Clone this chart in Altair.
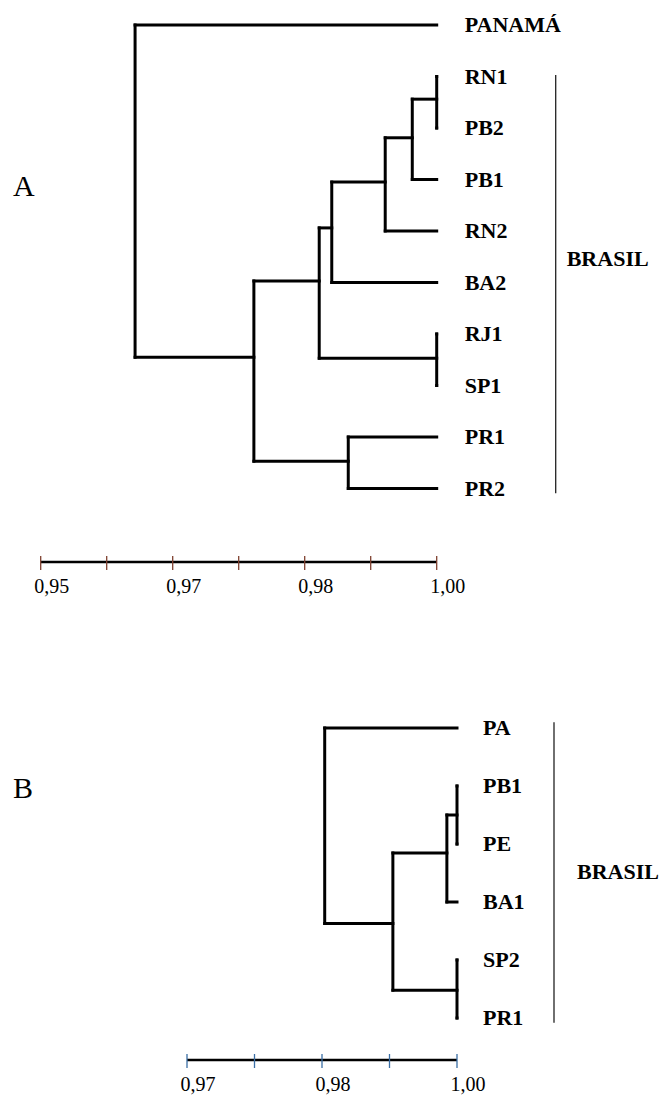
import altair as alt
import pandas as pd

# ---------------- data ----------------
# Panel A
leaves_A = ["PANAMÁ", "RN1", "PB2", "PB1", "RN2", "BA2", "RJ1", "SP1", "PR1", "PR2"]
nodes_A = ["a1", "a2", "a3", "a4", "a5", "a6", "a7", "a8", "a9"]
children_A = [("RN1", "PB2"), ("a1", "PB1"), ("a2", "RN2"), ("a3", "BA2"), ("RJ1", "SP1"),
              ("a4", "a5"), ("PR1", "PR2"), ("a6", "a7"), ("PANAMÁ", "a8")]
levels_A = [1.000, 0.9963, 0.9922, 0.9841, 1.000, 0.9822, 0.9866, 0.9723, 0.9543]
rows_A = [1.44, 2.19, 3.05, 3.94, 6.47, 4.97, 8.47, 6.45, 3.2]   # connector row of each node
group_A = "BRASIL"
group_A_span = [0.97, 9.09]
group_A_row = 4.55
ticks_A = [0.94, 0.95, 0.96, 0.97, 0.98, 0.99, 1.00]
tick_labels_A = ["0,95", "", "0,97", "", "0,98", "", "1,00"]

# Panel B
leaves_B = ["PA", "PB1", "PE", "BA1", "SP2", "PR1"]
nodes_B = ["b1", "b2", "b3", "b4", "b5"]
children_B = [("PB1", "PE"), ("b1", "BA1"), ("SP2", "PR1"), ("b2", "b3"), ("PA", "b4")]
levels_B = [1.000, 0.9985, 1.000, 0.9905, 0.9804]
rows_B = [1.5, 2.155, 4.52, 3.37, 2.0]
group_B = "BRASIL"
group_B_span = [-0.10, 5.08]
group_B_row = 2.48
ticks_B = [0.96, 0.97, 0.98, 0.99, 1.00]
tick_labels_B = ["0,97", "", "0,98", "", "1,00"]

# ---------------- layout (pixels) ----------------
FONT = "Liberation Serif"
W = 653
H_A = 554
SPACING = 40
H_B = 458
LEAF_FS = 22
TICK_FS = 20


def lin_domain(v0, p0, v1, p1, width):
    k = (v1 - v0) / (p1 - p0)
    return [v0 - k * p0, v0 + k * (width - p0)]


def row_domain(row0_px, step, height):
    return [-row0_px / step, (height - row0_px) / step]


def build_segments(leaves, names, children, levels, rows):
    pos = {l: (1.0, float(i)) for i, l in enumerate(leaves)}
    segs = []
    for n, ch, lv, r in zip(names, children, levels, rows):
        ys = []
        for c in ch:
            cx, cy = pos[c]
            segs.append(dict(x=lv, x2=cx, y=cy, y2=cy))
            ys.append(cy)
        segs.append(dict(x=lv, x2=lv, y=min(ys), y2=max(ys)))
        pos[n] = (lv, r)
    return pd.DataFrame(segs)


def panel(leaves, names, children, levels, rows, group, span, grow, ticks, tlabels,
          xdom, ydom, height, letter, letter_y, leaf_dx, br_dx, grp_dx, tick_color):
    xs = alt.Scale(domain=xdom, nice=False, zero=False)
    ys = alt.Scale(domain=ydom, nice=False, zero=False, reverse=True)

    seg = build_segments(leaves, names, children, levels, rows)
    tree = alt.Chart(seg).mark_rule(color="black", strokeWidth=3, strokeCap="square").encode(
        x=alt.X("x:Q", scale=xs, axis=None),
        x2="x2:Q",
        y=alt.Y("y:Q", scale=ys, axis=None),
        y2="y2:Q",
    )

    leaf_df = pd.DataFrame({"x": [1.0] * len(leaves), "y": list(range(len(leaves))), "label": leaves})
    leaf_text = alt.Chart(leaf_df).mark_text(
        align="left", baseline="middle", dx=leaf_dx, font=FONT, fontWeight="bold",
        fontSize=LEAF_FS, color="black").encode(
        x=alt.X("x:Q", axis=None), y=alt.Y("y:Q", axis=None), text="label:N")

    br_df = pd.DataFrame({"x": [1.0], "y": [span[0]], "y2": [span[1]]})
    bracket = alt.Chart(br_df).mark_rule(color="#222222", strokeWidth=1.3, xOffset=br_dx).encode(
        x=alt.X("x:Q", axis=None), y=alt.Y("y:Q", axis=None), y2="y2:Q")

    g_df = pd.DataFrame({"x": [1.0], "y": [grow], "label": [group]})
    g_text = alt.Chart(g_df).mark_text(
        align="left", baseline="middle", dx=grp_dx, font=FONT, fontWeight="bold",
        fontSize=LEAF_FS, color="black").encode(
        x=alt.X("x:Q", axis=None), y=alt.Y("y:Q", axis=None), text="label:N")

    # scale bar (axis) drawn from the tick values
    ax_df = pd.DataFrame({"x": [ticks[0]], "x2": [ticks[-1]]})
    ax_line = alt.Chart(ax_df).mark_rule(color="black", strokeWidth=2.7).encode(
        x=alt.X("x:Q", axis=None), x2="x2:Q", y=alt.value(height))

    tk_df = pd.DataFrame({"x": ticks, "label": tlabels})
    tick_marks = alt.Chart(tk_df).mark_rule(color=tick_color, strokeWidth=1.3).encode(
        x=alt.X("x:Q", axis=None), y=alt.value(height - 6), y2=alt.value(height + 8))
    tick_text = alt.Chart(tk_df).mark_text(
        align="center", baseline="alphabetic", dx=11, font=FONT, fontSize=TICK_FS,
        color="black").encode(
        x=alt.X("x:Q", axis=None), y=alt.value(height + 31), text="label:N")

    let_df = pd.DataFrame({"label": [letter]})
    let_text = alt.Chart(let_df).mark_text(
        align="left", baseline="middle", font=FONT, fontSize=30, color="black").encode(
        x=alt.value(5), y=alt.value(letter_y), text="label:N")

    return alt.layer(tree, leaf_text, bracket, g_text, ax_line, tick_marks, tick_text,
                     let_text).properties(width=W, height=height)


chart_A = panel(leaves_A, nodes_A, children_A, levels_A, rows_A, group_A, group_A_span,
                group_A_row, ticks_A, tick_labels_A,
                lin_domain(0.94, 32.7, 1.00, 428.7, W), row_domain(17, 51.5, H_A), H_A,
                "A", 179, 28, 119, 130, "#7f4030")

top_B = H_A + SPACING
chart_B = panel(leaves_B, nodes_B, children_B, levels_B, rows_B, group_B, group_B_span,
                group_B_row, ticks_B, tick_labels_B,
                lin_domain(0.96, 179, 1.00, 449, W), row_domain(728 - 8 - top_B, 58, H_B), H_B,
                "B", 789 - 8 - top_B, 26, 97, 120, "#3a6ea5")

chart = alt.vconcat(chart_A, chart_B, spacing=SPACING, bounds="flush", padding=0).configure_view(
    strokeWidth=0)

chart.save("out.html", embed_options={"renderer": "svg", "actions": False})
